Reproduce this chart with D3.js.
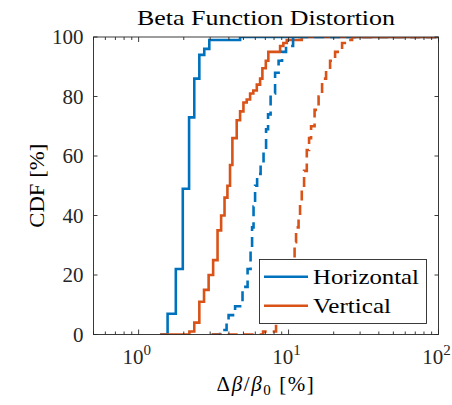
<!DOCTYPE html>
<html>
<head>
<meta charset="utf-8">
<script src="https://cdn.jsdelivr.net/npm/d3@7"></script>
<style>
  body { margin: 0; background: #fff; }
  svg { display: block; }
  text { font-family: "Liberation Serif", "Times New Roman", serif; fill: #000; }
</style>
</head>
<body>
<svg id="chart" width="452" height="405"></svg>
<script>
// Empirical CDFs of the beta-beating, per plane (solid and dashed cases)
const seriesNames = ["Horizontal", "Vertical"];
const seriesColors = ["#0072BD", "#D95319"];

const solidStart = 1.39;
const dashedStart = 3.07;

const horizSolidX = [1.56, 1.77, 1.97, 2.17, 2.35, 2.54, 2.74, 2.96, 4.75];
const horizSolidY = [7, 22, 49, 73, 86, 94, 96, 99, 100];

const vertSolidX = [2.18, 2.35, 2.54, 2.73, 2.93, 3.14, 3.36, 3.55, 3.74, 3.91, 4.07, 4.22, 4.51,
                    4.75, 5.00, 5.26, 5.54, 5.82, 6.14, 6.46, 6.69, 7.05, 7.33, 8.78, 9.23, 9.73, 12.25];
const vertSolidY = [1, 4, 11, 15, 20, 25, 35, 40, 46, 50, 57, 66, 72,
                    75, 78, 79, 81, 82, 84, 86, 89.5, 92, 95, 97, 98, 99, 100];

const horizDashedX = [3.49, 3.86, 3.98, 4.40, 4.93, 5.33, 5.58, 5.71, 5.84, 5.98, 6.17,
                      6.51, 6.81, 7.08, 7.30, 7.59, 8.13, 8.58, 9.05, 9.62, 10.72];
const horizDashedY = [1.5, 4, 6.5, 9.5, 16, 22, 29, 36, 43, 50, 54,
                      57, 62, 69, 74, 81, 88, 92, 95, 97, 100];

const vertDashedX = [6.76, 8.25, 8.64, 9.05, 9.48, 9.92, 10.31, 10.63, 10.97, 11.22, 11.66, 11.93, 12.25,
                     12.69, 13.23, 13.70, 14.13, 14.91, 15.86, 16.73, 17.79, 18.92, 20.43, 22.75, 24.57, 26.52];
const vertDashedY = [1, 3.5, 6, 9, 13, 17, 21, 25, 31, 36, 40, 45, 49,
                     55, 62, 66, 70, 75.5, 80, 86, 89, 92, 95, 98, 99, 100];

const yTicks = [0, 20, 40, 60, 80, 100];
const xMajorTicks = [1, 10, 100];
const xMajorExponents = ["0", "1", "2"];
const xMinorTicks = [0.5, 0.6, 0.7, 0.8, 0.9, 2, 3, 4, 5, 6, 7, 8, 9, 20, 30, 40, 50, 60, 70, 80, 90];

const xDomain = [0.5, 100];
const yDomain = [0, 100];

// ---- layout ----
const W = 452, H = 405;
const margin = { left: 93.5, right: 13.5, top: 37, bottom: 70.5 };
const x0 = margin.left, x1 = W - margin.right;
const y0 = H - margin.bottom, y1 = margin.top;

const svg = d3.select("#chart");
const x = d3.scaleLog().domain(xDomain).range([x0, x1]);
const y = d3.scaleLinear().domain(yDomain).range([y0, y1]);

svg.append("defs").append("clipPath").attr("id", "plot-clip")
  .append("rect").attr("x", x0).attr("y", y1).attr("width", x1 - x0).attr("height", y0 - y1);

// ---- CDF step lines ----
function stepPoints(start, xs, ys) {
  const pts = [[start, 0]];
  xs.forEach((v, i) => pts.push([v, ys[i]]));
  pts.push([xDomain[1], ys[ys.length - 1]]);
  return pts;
}
const line = d3.line().x(d => x(d[0])).y(d => y(d[1])).curve(d3.curveStepAfter);

const curves = [
  { pts: stepPoints(solidStart, horizSolidX, horizSolidY), color: seriesColors[0], dash: null },
  { pts: stepPoints(solidStart, vertSolidX, vertSolidY), color: seriesColors[1], dash: null },
  { pts: stepPoints(dashedStart, horizDashedX, horizDashedY), color: seriesColors[0], dash: "10,6" },
  { pts: stepPoints(dashedStart, vertDashedX, vertDashedY), color: seriesColors[1], dash: "10,6" }
];

const gLines = svg.append("g").attr("clip-path", "url(#plot-clip)");
curves.forEach(c => {
  gLines.append("path")
    .attr("d", line(c.pts))
    .attr("fill", "none")
    .attr("stroke", c.color)
    .attr("stroke-width", 2.6)
    .attr("stroke-dasharray", c.dash)
    .attr("stroke-linejoin", "miter");
});

// ---- axes box and ticks (inward, mirrored) ----
const axisColor = "#262626";
const gAx = svg.append("g").attr("stroke", axisColor).attr("stroke-width", 0.9);

function tickLines(values, scale, orient, len) {
  values.forEach(v => {
    const p = scale(v);
    if (orient === "bottom") gAx.append("line").attr("x1", p).attr("x2", p).attr("y1", y0).attr("y2", y0 - len);
    if (orient === "top") gAx.append("line").attr("x1", p).attr("x2", p).attr("y1", y1).attr("y2", y1 + len);
    if (orient === "left") gAx.append("line").attr("y1", p).attr("y2", p).attr("x1", x0).attr("x2", x0 + len);
    if (orient === "right") gAx.append("line").attr("y1", p).attr("y2", p).attr("x1", x1).attr("x2", x1 - len);
  });
}
tickLines(xMajorTicks, x, "bottom", 5);
tickLines(xMajorTicks, x, "top", 5);
tickLines(xMinorTicks, x, "bottom", 3);
tickLines(xMinorTicks, x, "top", 3);
tickLines(yTicks, y, "left", 4);
tickLines(yTicks, y, "right", 4);

gAx.append("rect")
  .attr("x", x0).attr("y", y1).attr("width", x1 - x0).attr("height", y0 - y1)
  .attr("fill", "none");

// ---- tick labels ----
const fs = 21;
svg.append("g").selectAll("text").data(yTicks).join("text")
  .attr("x", x0 - 10).attr("y", d => y(d)).attr("dy", "0.34em")
  .attr("text-anchor", "end").attr("font-size", fs).style("fill", axisColor)
  .text(d => d);

const xl = svg.append("g").selectAll("text").data(xMajorTicks).join("text")
  .attr("x", d => x(d) - 2).attr("y", y0 + 29)
  .attr("text-anchor", "middle").attr("font-size", fs).style("fill", axisColor);
xl.append("tspan").text("10");
xl.append("tspan").attr("font-size", 15).attr("dy", -9).text((d, i) => xMajorExponents[i]);

// ---- title and axis labels ----
svg.append("text")
  .attr("x", (x0 + x1) / 2).attr("y", 25)
  .attr("text-anchor", "middle").attr("font-size", fs)
  .attr("textLength", 258).attr("lengthAdjust", "spacingAndGlyphs")
  .text("Beta Function Distortion");

svg.append("text")
  .attr("transform", `translate(44,${(y0 + y1) / 2}) rotate(-90)`)
  .attr("text-anchor", "middle").attr("font-size", fs)
  .attr("textLength", 84).attr("lengthAdjust", "spacingAndGlyphs")
  .text("CDF [%]");

const xlab = svg.append("text")
  .attr("x", (x0 + x1) / 2).attr("y", 391)
  .attr("text-anchor", "middle").attr("font-size", fs)
  .style("letter-spacing", "1.6px");
xlab.append("tspan").text("Δ");
xlab.append("tspan").attr("font-style", "italic").text("β");
xlab.append("tspan").text("/");
xlab.append("tspan").attr("font-style", "italic").text("β");
xlab.append("tspan").attr("font-size", 15).attr("dy", 4).text("0");
xlab.append("tspan").attr("dy", -4).text(" [%]");

// ---- legend ----
const legendTextLength = [106, 78];
const lg = svg.append("g");
lg.append("rect").attr("x", 259.5).attr("y", 259.5).attr("width", 167).attr("height", 64)
  .attr("fill", "#fff").attr("stroke", axisColor).attr("stroke-width", 0.9);
seriesNames.forEach((name, i) => {
  const ly = 276.7 + i * 29;
  lg.append("line").attr("x1", 264).attr("x2", 308).attr("y1", ly).attr("y2", ly)
    .attr("stroke", seriesColors[i]).attr("stroke-width", 2.6);
  lg.append("text").attr("x", 313).attr("y", ly).attr("dy", "0.34em")
    .attr("font-size", fs)
    .attr("textLength", legendTextLength[i]).attr("lengthAdjust", "spacingAndGlyphs")
    .text(name);
});
</script>
</body>
</html>
